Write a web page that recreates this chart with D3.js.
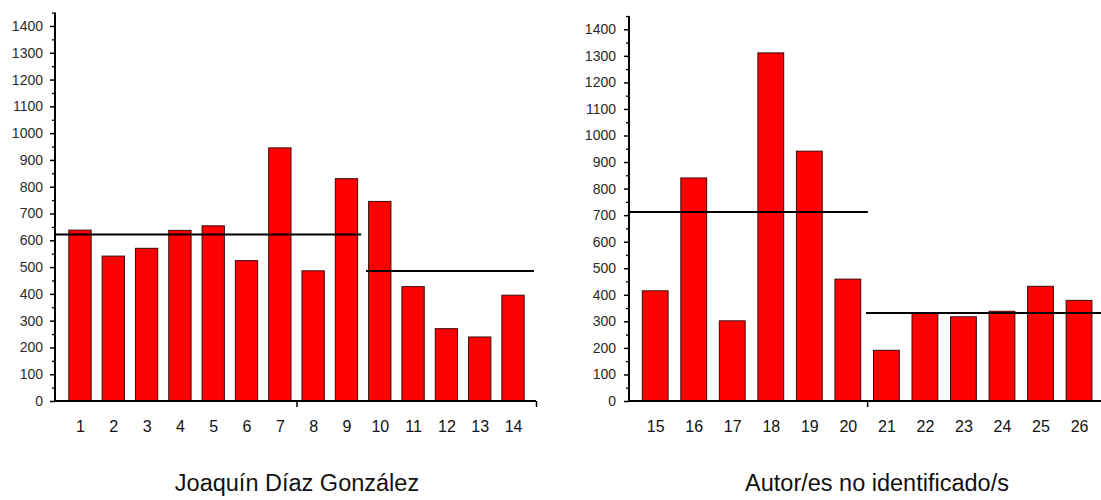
<!DOCTYPE html>
<html>
<head>
<meta charset="utf-8">
<script src="https://cdn.jsdelivr.net/npm/d3@7"></script>
<style>
  html, body { margin: 0; padding: 0; background: #fff; }
  svg { display: block; }
  text { font-family: Arial, "Liberation Sans", sans-serif; }
</style>
</head>
<body>
<svg id="chart" width="1101" height="500"></svg>
<script>
// ---- Data ----
const leftCategories = [1,2,3,4,5,6,7,8,9,10,11,12,13,14];
const leftValues = [638, 541, 570, 637, 654, 524, 945, 486, 830, 745, 427, 270, 239, 395];
const leftMeans = [
  { from: 0.25, to: 9.44, value: 622 },
  { from: 9.59, to: 14.63, value: 485 }
];
const leftTitle = "Joaquín Díaz González";

const rightCategories = [15,16,17,18,19,20,21,22,23,24,25,26];
const rightValues = [415, 840, 302, 1311, 941, 459, 191, 329, 317, 338, 432, 379];
const rightMeans = [
  { from: 14.32, to: 20.52, value: 712 },
  { from: 20.47, to: 26.6, value: 331 }
];
const rightTitle = "Autor/es no identificado/s";

const yMajorTicks = d3.range(0, 1401, 100);
const yMinorTicks = d3.range(50, 1451, 100);

// ---- Drawing ----
const svg = d3.select("#chart");

function panel(cfg) {
  const g = svg.append("g");
  const x = d3.scaleLinear().domain(cfg.xDomain).range(cfg.xRange);
  const y = d3.scaleLinear().domain([0, 1450]).range(cfg.yRange);
  const barW = x(cfg.xDomain[0] + 0.67) - x(cfg.xDomain[0]);

  // bars
  g.selectAll("rect.bar").data(cfg.categories).join("rect")
    .attr("class", "bar")
    .attr("x", (d) => x(d) - barW / 2)
    .attr("width", barW)
    .attr("y", (d, i) => y(cfg.values[i]))
    .attr("height", (d, i) => y(0) - y(cfg.values[i]))
    .attr("fill", "#ff0000")
    .attr("stroke", "#3a0a0a")
    .attr("stroke-width", 1);

  // mean lines
  g.selectAll("line.mean").data(cfg.means).join("line")
    .attr("class", "mean")
    .attr("x1", d => x(d.from)).attr("x2", d => x(d.to))
    .attr("y1", d => y(d.value)).attr("y2", d => y(d.value))
    .attr("stroke", "#000").attr("stroke-width", 2);

  // y axis - minor ticks
  const yMinor = g.append("g").attr("transform", `translate(${cfg.xRange[0]},0)`)
    .call(d3.axisLeft(y).tickValues(yMinorTicks).tickSize(3).tickFormat(""));
  yMinor.select(".domain").remove();
  yMinor.selectAll("line").attr("stroke", "#000").attr("stroke-width", 1.3);

  // y axis - major ticks
  const yAx = g.append("g").attr("transform", `translate(${cfg.xRange[0]},0)`)
    .call(d3.axisLeft(y).tickValues(yMajorTicks).tickSize(5).tickPadding(cfg.yPad).tickFormat(d3.format("d")));
  yAx.attr("font-size", null).attr("font-family", null);
  yAx.select(".domain").attr("stroke", "#000").attr("stroke-width", 2)
    .attr("d", `M0,${y(0)}V${y(1450)}`);
  yAx.selectAll(".tick line").attr("stroke", "#000").attr("stroke-width", 1.5);
  yAx.selectAll(".tick text").style("font-size", "14px").attr("fill", "#2a2a2a")
    .style("font-family", "Arial, 'Liberation Sans', sans-serif");

  // x axis - labels
  const xAx = g.append("g").attr("transform", `translate(0,${y(0)})`)
    .call(d3.axisBottom(x).tickValues(cfg.categories).tickSize(0).tickPadding(20).tickFormat(d3.format("d")));
  xAx.attr("font-size", null).attr("font-family", null);
  xAx.select(".domain").attr("stroke", "#000").attr("stroke-width", 2)
    .attr("d", `M${cfg.xRange[0]},0H${cfg.xRange[1]}`);
  xAx.selectAll(".tick text").style("font-size", "16px").attr("fill", "#111")
    .style("font-family", "Arial, 'Liberation Sans', sans-serif");

  // x axis - separator ticks
  const xT = g.append("g").attr("transform", `translate(0,${y(0)})`)
    .call(d3.axisBottom(x).tickValues(cfg.xTicks).tickSize(6).tickFormat(""));
  xT.select(".domain").remove();
  xT.selectAll("line").attr("stroke", "#000").attr("stroke-width", 1.5);

  // title
  g.append("text")
    .attr("x", cfg.titleX).attr("y", 491)
    .attr("text-anchor", "middle")
    .style("font-size", "23.5px")
    .attr("fill", "#111")
    .text(cfg.title);
}

panel({
  categories: leftCategories, values: leftValues, means: leftMeans, title: leftTitle,
  xDomain: [0.25, 14.69], xRange: [55, 536], yRange: [401, 12.6],
  xTicks: [7.5, 14.69], yPad: 7, titleX: 297
});

panel({
  categories: rightCategories, values: rightValues, means: rightMeans, title: rightTitle,
  xDomain: [14.32, 26.57], xRange: [629, 1101], yRange: [401, 16],
  xTicks: [20.5], yPad: 8, titleX: 877
});
</script>
</body>
</html>
